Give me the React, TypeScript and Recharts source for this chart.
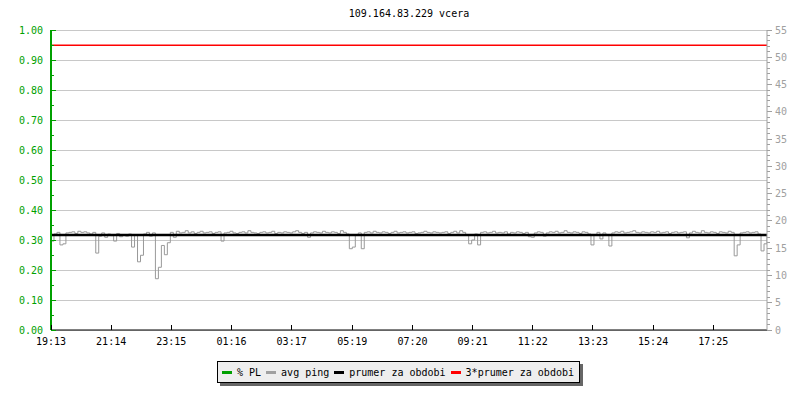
import { LineChart, Line, XAxis, YAxis, CartesianGrid, ReferenceLine } from "recharts";

// avg ping [ms], one sample every 6 minutes starting 19:13
const sampleMinutes = 6;
const pingMs = [
  16.3, 17.6, 17.9, 15.6, 15.8, 17.8, 17.9, 18.0, 17.7, 18.1,
  17.9, 18.0, 17.8, 17.6, 17.9, 14.1, 17.2, 17.8, 17.0, 17.6,
  17.3, 16.3, 17.7, 17.1, 17.5, 17.2, 17.6, 15.2, 17.4, 12.5,
  13.7, 17.6, 17.9, 17.2, 17.8, 9.4, 11.5, 15.5, 13.8, 16.0,
  17.9, 17.0, 18.1, 17.8, 17.9, 18.2, 17.8, 18.0, 17.7, 17.9,
  18.1, 17.8, 17.9, 18.0, 17.7, 17.9, 18.0, 16.3, 17.8, 17.9,
  18.1, 17.8, 17.7, 17.9, 18.0, 17.8, 18.2, 17.9, 17.8, 17.7,
  17.9, 18.0, 17.8, 17.9, 18.1, 17.7, 17.9, 17.8, 18.0, 17.9,
  17.8, 18.0, 18.2, 17.9, 17.7, 17.9, 17.0, 17.8, 18.0, 17.9,
  17.8, 18.1, 17.9, 17.8, 18.0, 17.9, 17.7, 18.2, 17.9, 17.6,
  14.9, 15.2, 17.5, 17.8, 14.9, 17.9, 18.0, 17.8, 18.1, 17.9,
  17.8, 18.0, 17.9, 17.7, 17.9, 18.1, 17.8, 17.9, 18.0, 17.8,
  17.9, 18.0, 17.7, 17.8, 17.9, 18.1, 17.9, 17.8, 18.0, 17.9,
  17.8, 17.9, 18.0, 17.7, 17.9, 18.1, 17.8, 18.2, 17.9, 17.4,
  15.8, 16.5, 17.6, 15.6, 17.9, 18.0, 17.8, 17.9, 18.1, 17.8,
  17.9, 17.8, 18.0, 17.6, 17.9, 17.8, 18.0, 17.9, 17.7, 17.9,
  17.1, 17.0, 17.8, 18.0, 17.9, 17.2, 17.8, 18.0, 17.9, 18.1,
  17.8, 17.9, 18.2, 17.9, 17.8, 18.0, 17.9, 17.7, 18.0, 17.9,
  17.6, 15.6, 17.5, 17.9, 16.7, 17.8, 17.4, 15.4, 17.8, 18.0,
  17.9, 18.1, 17.8, 17.9, 18.0, 18.2, 17.9, 17.8, 18.0, 17.9,
  17.8, 18.0, 17.9, 18.1, 17.8, 17.9, 18.0, 17.7, 17.9, 18.0,
  17.8, 17.9, 18.0, 16.9, 17.8, 18.1, 17.9, 17.8, 18.2, 17.9,
  17.8, 18.0, 17.9, 17.7, 18.0, 17.9, 17.8, 18.1, 17.9, 13.6,
  15.6, 17.8, 17.9, 18.0, 17.8, 17.9, 18.0, 17.6, 14.5, 15.8,
  17.3,
];

const meanPing = 17.4;
const tripleMeanPing = 52.2;

const timeTicks = [0, 121, 242, 363, 484, 606, 727, 848, 969, 1090, 1211, 1332];
const timeLabels = [
  "19:13", "21:14", "23:15", "01:16", "03:17", "05:19",
  "07:20", "09:21", "11:22", "13:23", "15:24", "17:25",
];

const plTicks = [
  0, 0.05, 0.1, 0.15, 0.2, 0.25, 0.3, 0.35, 0.4, 0.45, 0.5,
  0.55, 0.6, 0.65, 0.7, 0.75, 0.8, 0.85, 0.9, 0.95, 1,
];
const plGridTicks = [0, 0.1, 0.2, 0.3, 0.4, 0.5, 0.6, 0.7, 0.8, 0.9, 1];

const pingTicks = [
  0, 1, 2, 3, 4, 5, 6, 7, 8, 9, 10, 11, 12, 13, 14, 15, 16, 17, 18, 19,
  20, 21, 22, 23, 24, 25, 26, 27, 28, 29, 30, 31, 32, 33, 34, 35, 36, 37,
  38, 39, 40, 41, 42, 43, 44, 45, 46, 47, 48, 49, 50, 51, 52, 53, 54, 55,
];

const legendItems = [
  { label: "% PL", color: "#00a000" },
  { label: "avg ping", color: "#a0a0a0" },
  { label: "prumer za obdobi", color: "#000000" },
  { label: "3*prumer za obdobi", color: "#ff0000" },
];

const data = pingMs.map((ping, i) => ({ t: i * sampleMinutes, ping }));

const GREEN = "#00a000";
const GRAY = "#a0a0a0";
const FONT = "'DejaVu Sans Mono', monospace";
const MARGIN = 8;

const LeftTick = (props: any) => {
  const { x, y, payload } = props;
  const major = Math.round(payload.value * 100) % 10 === 0;
  const ax = x + MARGIN;
  return (
    <g>
      <line x1={ax} x2={ax + (major ? 5 : 3)} y1={y} y2={y} stroke={GREEN} shapeRendering="crispEdges" />
      {major && (
        <text x={x} y={y} dy="0.35em" textAnchor="end" fill={GREEN} fontSize={10} fontFamily={FONT}>
          {payload.value.toFixed(2)}
        </text>
      )}
    </g>
  );
};

const RightTick = (props: any) => {
  const { x, y, payload } = props;
  const major = payload.value % 5 === 0;
  const ax = x - MARGIN;
  return (
    <g>
      <line x1={ax} x2={ax + (major ? 5 : 3)} y1={y} y2={y} stroke={GRAY} shapeRendering="crispEdges" />
      {major && (
        <text x={x} y={y} dy="0.35em" textAnchor="start" fill={GRAY} fontSize={10} fontFamily={FONT}>
          {payload.value}
        </text>
      )}
    </g>
  );
};

const BottomTick = (props: any) => {
  const { x, y, index } = props;
  const ay = y - MARGIN;
  return (
    <g>
      <line x1={x} x2={x} y1={ay} y2={ay - 5} stroke="#000" shapeRendering="crispEdges" />
      <text x={x} y={y} dy="0.71em" textAnchor="middle" fill="#000" fontSize={10} fontFamily={FONT}>
        {timeLabels[index]}
      </text>
    </g>
  );
};

export default function App() {
  return (
    <div
      style={{
        position: "absolute",
        left: 0,
        top: 0,
        width: 800,
        height: 400,
        background: "#fff",
        fontFamily: FONT,
      }}
    >
      <div
        style={{
          position: "absolute",
          left: 51,
          width: 716,
          top: 8,
          textAlign: "center",
          fontSize: 10,
          lineHeight: "12px",
        }}
      >
        109.164.83.229 vcera
      </div>

      <LineChart
        width={800}
        height={400}
        data={data}
        margin={{ top: 30, right: 0, bottom: 50, left: 0 }}
      >
        <CartesianGrid
          yAxisId="grid"
          vertical={false}
          stroke="#c8c8c8"
          shapeRendering="crispEdges"
        />
        <XAxis
          dataKey="t"
          type="number"
          domain={[0, 1440]}
          allowDataOverflow
          ticks={timeTicks}
          interval={0}
          height={20}
          tickSize={0}
          tickMargin={MARGIN}
          tick={<BottomTick />}
          axisLine={{ stroke: "#000" }}
        />
        <YAxis
          yAxisId="left"
          orientation="left"
          type="number"
          domain={[0, 1]}
          allowDataOverflow
          ticks={plTicks}
          interval={0}
          width={51}
          tickSize={0}
          tickMargin={MARGIN}
          tick={<LeftTick />}
          axisLine={{ stroke: GREEN, strokeWidth: 2 }}
        />
        <YAxis
          yAxisId="grid"
          orientation="left"
          type="number"
          domain={[0, 1]}
          allowDataOverflow
          ticks={plGridTicks}
          width={0}
          hide
        />
        <YAxis
          yAxisId="right"
          orientation="right"
          type="number"
          domain={[0, 55]}
          allowDataOverflow
          ticks={pingTicks}
          interval={0}
          width={33}
          tickSize={0}
          tickMargin={MARGIN}
          tick={<RightTick />}
          axisLine={{ stroke: GRAY }}
        />
        <Line
          yAxisId="right"
          dataKey="ping"
          type="stepAfter"
          stroke="#999999"
          strokeWidth={1}
          dot={false}
          isAnimationActive={false}
        />
        <ReferenceLine yAxisId="right" y={meanPing} stroke="#000" strokeWidth={2.5} />
        <ReferenceLine yAxisId="right" y={tripleMeanPing} stroke="#ff0000" strokeWidth={1.5} />
      </LineChart>

      <div
        style={{
          position: "absolute",
          left: 217,
          top: 361,
          height: 22,
          boxSizing: "border-box",
          border: "1px solid #000",
          background: "#eeeeee",
          boxShadow: "3px 3px 0 #666",
          display: "flex",
          alignItems: "center",
          padding: "0 5px 0 4px",
          fontSize: 10,
          whiteSpace: "pre",
        }}
      >
        {legendItems.map((item, i) => (
          <div key={item.label} style={{ display: "flex", alignItems: "center", marginLeft: i === 0 ? 0 : 5 }}>
            <span style={{ width: 10, height: 3, background: item.color, marginRight: 5 }} />
            <span>{item.label}</span>
          </div>
        ))}
      </div>
    </div>
  );
}
